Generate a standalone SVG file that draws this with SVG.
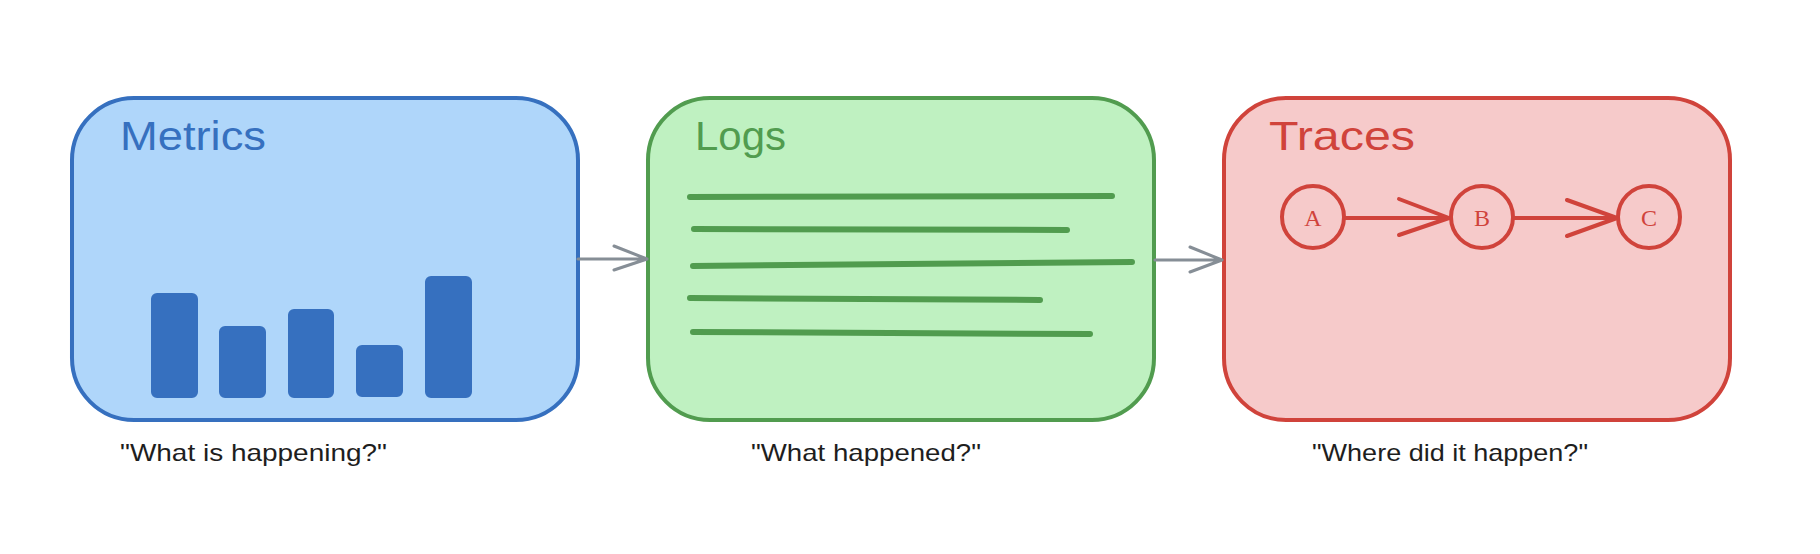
<svg xmlns="http://www.w3.org/2000/svg" width="1820" height="554" viewBox="0 0 1820 554">
<style>
.box{stroke-width:4;stroke-linejoin:round}
.title{font-family:"Liberation Sans","DejaVu Sans",sans-serif;font-size:40px}
.cap{font-family:"Liberation Sans","DejaVu Sans",sans-serif;font-size:24px;fill:#1e1e1e}
.bar{fill:#3670bf;stroke:#3670bf;stroke-width:2}
.log{stroke:#519c4f;stroke-width:6;stroke-linecap:round;fill:none}
.conn{stroke:#868e96;stroke-width:3;fill:none;stroke-linecap:round;stroke-linejoin:round}
.tr{stroke:#d0433b;stroke-width:4;fill:none;stroke-linecap:round;stroke-linejoin:round}
.node{font-family:"Liberation Serif","DejaVu Serif",serif;font-size:24px;fill:#d0433b;text-anchor:middle}
</style>
<rect width="1820" height="554" fill="#ffffff"/>
<g id="metrics">
<rect class="box" x="72" y="98" width="506" height="322" rx="62" ry="62" fill="#afd6fa" stroke="#3670bf"/>
<text class="title" x="120" y="150" fill="#3670bf" textLength="146" lengthAdjust="spacingAndGlyphs">Metrics</text>
<rect class="bar" x="152" y="294" width="45" height="103" rx="5"/>
<rect class="bar" x="220" y="327" width="45" height="70" rx="5"/>
<rect class="bar" x="289" y="310" width="44" height="87" rx="5"/>
<rect class="bar" x="357" y="346" width="45" height="50" rx="5"/>
<rect class="bar" x="426" y="277" width="45" height="120" rx="5"/>
<text class="cap" x="120" y="461" textLength="267" lengthAdjust="spacingAndGlyphs">"What is happening?"</text>
</g>
<g id="logs">
<rect class="box" x="648" y="98" width="506" height="322" rx="62" ry="62" fill="#bff1c1" stroke="#519c4f"/>
<text class="title" x="695" y="150" fill="#519c4f" textLength="91" lengthAdjust="spacingAndGlyphs">Logs</text>
<line class="log" x1="690" y1="197" x2="1112" y2="196"/>
<line class="log" x1="694" y1="229" x2="1067" y2="230"/>
<line class="log" x1="693" y1="266" x2="1132" y2="262"/>
<line class="log" x1="690" y1="298" x2="1040" y2="300"/>
<line class="log" x1="693" y1="332" x2="1090" y2="334"/>
<text class="cap" x="751" y="461" textLength="230" lengthAdjust="spacingAndGlyphs">"What happened?"</text>
</g>
<g id="traces">
<rect class="box" x="1224" y="98" width="506" height="322" rx="62" ry="62" fill="#f6caca" stroke="#d0433b"/>
<text class="title" x="1269" y="150" fill="#d0433b" textLength="146" lengthAdjust="spacingAndGlyphs">Traces</text>
<g id="trace-graph">
<circle class="tr" cx="1313" cy="217" r="31"/>
<circle class="tr" cx="1482" cy="217" r="31"/>
<circle class="tr" cx="1649" cy="217" r="31"/>
<text class="node" x="1313" y="226">A</text>
<text class="node" x="1482" y="226">B</text>
<text class="node" x="1649" y="226">C</text>
<path class="tr" d="M1345 218 L1449 218 M1399 199 L1449 218 L1399 235"/>
<path class="tr" d="M1514 218 L1617 218 M1567 200 L1617 218 L1567 236"/>
</g>
<text class="cap" x="1312" y="461" textLength="276" lengthAdjust="spacingAndGlyphs">"Where did it happen?"</text>
</g>
<g id="connectors">
<path class="conn" d="M578 259 L647 259 M614 246 L647 259 L614 270"/>
<path class="conn" d="M1155 260 L1222 260 M1190 247 L1222 260 L1190 272"/>
</g>
</svg>
